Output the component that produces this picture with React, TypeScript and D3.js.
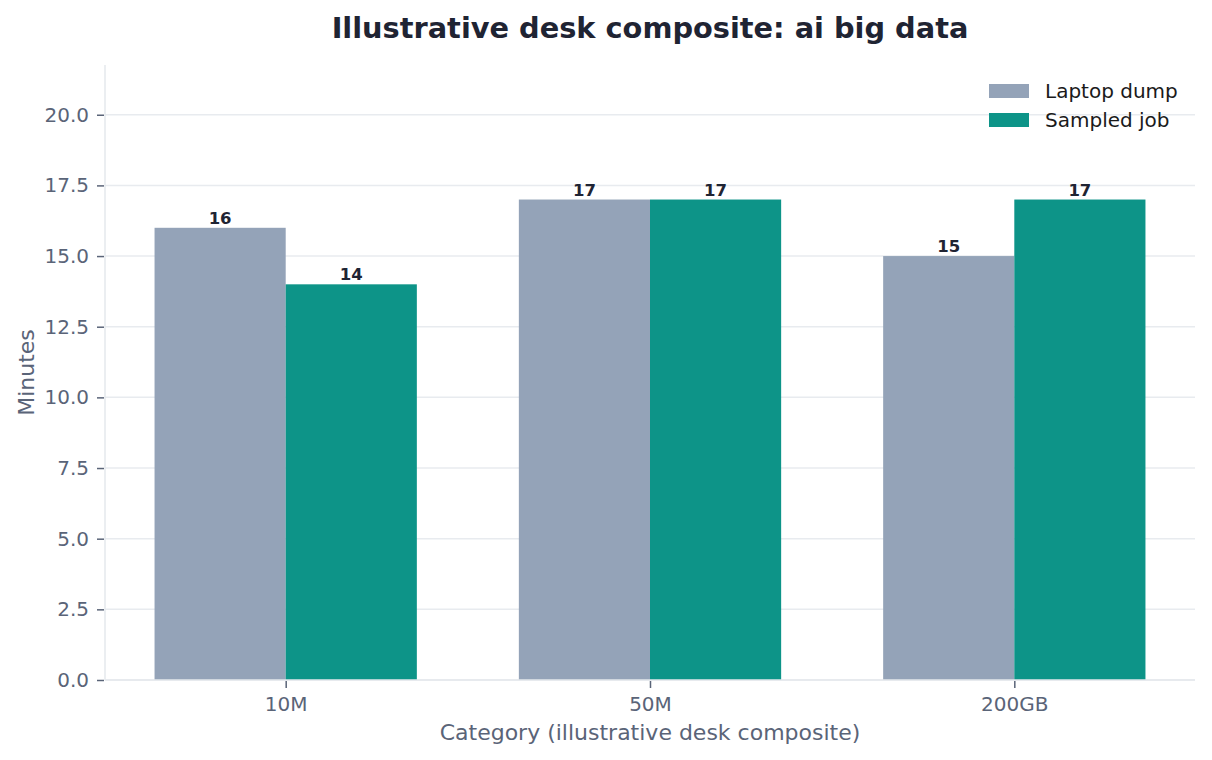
import * as d3 from "d3";
import { useEffect, useRef } from "react";

const categories: string[] = ["10M", "50M", "200GB"];
const seriesNames: string[] = ["Laptop dump", "Sampled job"];
const laptopDump: number[] = [16, 17, 15];
const sampledJob: number[] = [14, 17, 17];
const yTicks: number[] = [0, 2.5, 5, 7.5, 10, 12.5, 15, 17.5, 20];
const colors: string[] = ["#94a3b8", "#0d9488"];

const width = 1212;
const height = 760;
const marginLeft = 105;
const marginRight = 17;
const marginTop = 65;
const marginBottom = 80;
const barWidth = 0.36;
const font = "DejaVu Sans, sans-serif";

export default function App() {
  const svgRef = useRef<SVGSVGElement>(null);

  useEffect(() => {
    const svg = d3.select(svgRef.current);
    svg.selectAll("*").remove();

    const x = d3
      .scaleLinear()
      .domain([-0.496, 2.496])
      .range([marginLeft, width - marginRight]);
    const y = d3
      .scaleLinear()
      .domain([0, 21.76])
      .range([height - marginBottom, marginTop]);

    // grid
    svg
      .append("g")
      .selectAll("line")
      .data(yTicks)
      .enter()
      .append("line")
      .attr("x1", marginLeft)
      .attr("x2", width - marginRight)
      .attr("y1", (d) => y(d))
      .attr("y2", (d) => y(d))
      .attr("stroke", "#e8ebef")
      .attr("stroke-width", 1.5);

    // bars
    const series = [laptopDump, sampledJob];
    series.forEach((values, si) => {
      const offset = si === 0 ? -barWidth / 2 : barWidth / 2;
      const g = svg.append("g");
      g.selectAll("rect")
        .data(values)
        .enter()
        .append("rect")
        .attr("x", (_, i) => x(i + offset - barWidth / 2))
        .attr("width", x(barWidth) - x(0))
        .attr("y", (d) => y(d))
        .attr("height", (d) => y(0) - y(d))
        .attr("fill", colors[si]);
      g.selectAll("text")
        .data(values)
        .enter()
        .append("text")
        .attr("x", (_, i) => x(i + offset))
        .attr("y", (d) => y(d) - 4)
        .attr("text-anchor", "middle")
        .attr("font-family", font)
        .attr("font-weight", "bold")
        .attr("font-size", 16.5)
        .attr("fill", "#1f2433")
        .text((d) => d3.format("d")(d));
    });

    // spines
    svg
      .append("line")
      .attr("x1", marginLeft)
      .attr("x2", marginLeft)
      .attr("y1", marginTop)
      .attr("y2", y(0))
      .attr("stroke", "#e5e8ec")
      .attr("stroke-width", 1.5);
    svg
      .append("line")
      .attr("x1", marginLeft)
      .attr("x2", width - marginRight)
      .attr("y1", y(0))
      .attr("y2", y(0))
      .attr("stroke", "#e5e8ec")
      .attr("stroke-width", 1.5);

    // y axis
    const yAxis = svg
      .append("g")
      .attr("transform", `translate(${marginLeft - 1},0)`)
      .call(
        d3
          .axisLeft(y)
          .tickValues(yTicks)
          .tickFormat(d3.format(".1f"))
          .tickSize(7)
          .tickPadding(8)
      );
    yAxis.select(".domain").remove();
    yAxis.selectAll(".tick line").attr("stroke", "#5a6478").attr("stroke-width", 1.5);
    yAxis
      .selectAll(".tick text")
      .attr("font-family", font)
      .attr("font-size", 20)
      .attr("fill", "#5a6478");

    // x axis
    const xAxis = svg
      .append("g")
      .attr("transform", `translate(0,${y(0) + 1})`)
      .call(
        d3
          .axisBottom(x)
          .tickValues([0, 1, 2])
          .tickFormat((d) => categories[d as number])
          .tickSize(7)
          .tickPadding(9)
      );
    xAxis.select(".domain").remove();
    xAxis.selectAll(".tick line").attr("stroke", "#5a6478").attr("stroke-width", 1.5);
    xAxis
      .selectAll(".tick text")
      .attr("font-family", font)
      .attr("font-size", 20)
      .attr("fill", "#5a6478");

    // axis labels
    svg
      .append("text")
      .attr("x", (marginLeft + width - marginRight) / 2)
      .attr("y", 740)
      .attr("text-anchor", "middle")
      .attr("font-family", font)
      .attr("font-size", 22)
      .attr("fill", "#5a6478")
      .text("Category (illustrative desk composite)");
    svg
      .append("text")
      .attr("transform", `translate(34,${(marginTop + y(0)) / 2}) rotate(-90)`)
      .attr("text-anchor", "middle")
      .attr("font-family", font)
      .attr("font-size", 22)
      .attr("fill", "#5a6478")
      .text("Minutes");

    // title
    svg
      .append("text")
      .attr("x", (marginLeft + width - marginRight) / 2)
      .attr("y", 38)
      .attr("text-anchor", "middle")
      .attr("font-family", font)
      .attr("font-weight", "bold")
      .attr("font-size", 28.8)
      .attr("fill", "#1f2433")
      .text("Illustrative desk composite: ai big data");

    // legend
    const legend = svg
      .append("g")
      .selectAll("g")
      .data(seriesNames)
      .enter()
      .append("g")
      .attr("transform", (_, i) => `translate(989,${84 + i * 29})`);
    legend
      .append("rect")
      .attr("width", 40)
      .attr("height", 14)
      .attr("fill", (_, i) => colors[i]);
    legend
      .append("text")
      .attr("x", 56)
      .attr("y", 14)
      .attr("font-family", font)
      .attr("font-size", 20)
      .attr("fill", "#1a1a1a")
      .text((d) => d);
  }, []);

  return (
    <div style={{ position: "absolute", left: 0, top: 0 }}>
      <svg ref={svgRef} width={width} height={height} style={{ display: "block", background: "#fff" }} />
    </div>
  );
}
